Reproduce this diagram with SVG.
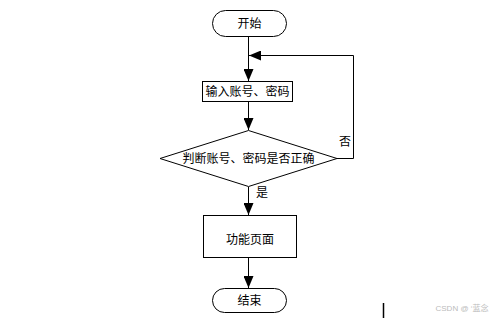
<svg xmlns="http://www.w3.org/2000/svg" width="499" height="318" viewBox="0 0 499 318">
<style>
.s{fill:#fff;stroke:#000;stroke-width:1}
.t{font-family:"Liberation Sans","Noto Sans CJK SC",sans-serif;font-size:12px;fill:#000;text-anchor:middle;dominant-baseline:central}
.c{fill:none;stroke:#000;stroke-width:1}
</style>
<defs>
<marker id="a" markerWidth="12" markerHeight="10" refX="12" refY="5" orient="auto" markerUnits="userSpaceOnUse">
<path d="M0,0 L12,5 L0,10 Z" fill="#000"/>
</marker>
</defs>
<rect width="499" height="318" fill="#fff"/>
<g id="connectors">
<line class="c" x1="248.5" y1="37" x2="248.5" y2="81" marker-end="url(#a)"/>
<line class="c" x1="248.5" y1="102" x2="248.5" y2="130" marker-end="url(#a)"/>
<line class="c" x1="248.5" y1="187" x2="248.5" y2="215" marker-end="url(#a)"/>
<line class="c" x1="248.5" y1="258" x2="248.5" y2="288" marker-end="url(#a)"/>
<polyline class="c" points="337,158.5 353.5,158.5 353.5,55.5 249,55.5" marker-end="url(#a)"/>
<text class="t" x="345" y="142">否</text>
<text class="t" x="262" y="193">是</text>
</g>
<g id="start">
<rect class="s" x="212.5" y="10.5" width="74" height="26" rx="13"/>
<text class="t" x="249.5" y="23.5">开始</text>
</g>
<g id="input">
<rect class="s" x="202.5" y="81.5" width="90" height="20"/>
<text class="t" x="247.5" y="91.5">输入账号、密码</text>
</g>
<g id="decision">
<polygon class="s" points="248.5,130.5 337,158.5 248.5,186.5 160,158.5"/>
<text class="t" x="248.5" y="158.5">判断账号、密码是否正确</text>
</g>
<g id="func">
<rect class="s" x="203.5" y="215.5" width="93" height="42"/>
<text class="t" x="250" y="240">功能页面</text>
</g>
<g id="end">
<rect class="s" x="212.5" y="288.5" width="74" height="24" rx="12"/>
<text class="t" x="249.5" y="300.5">结束</text>
</g>
<line x1="383.5" y1="303" x2="383.5" y2="318" stroke="#000" stroke-width="1.5"/>
<text x="462" y="308" font-family="Liberation Sans,'Noto Sans CJK SC',sans-serif" font-size="8" fill="#bbb" text-anchor="middle" dominant-baseline="central">CSDN @ ‘蓝念</text>
</svg>
